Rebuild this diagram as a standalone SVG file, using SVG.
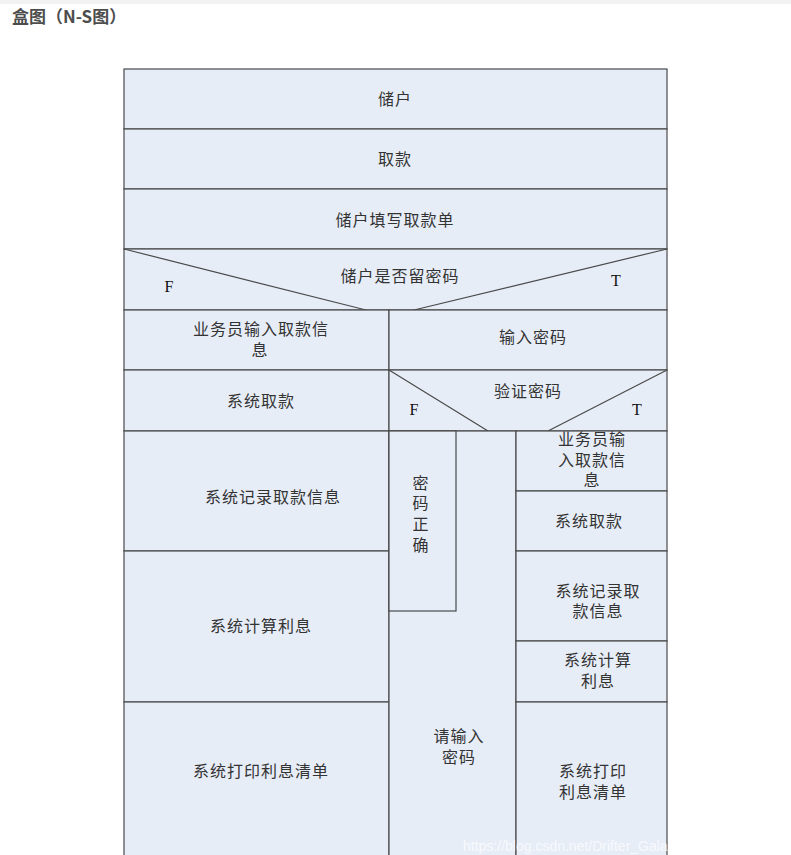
<svg xmlns="http://www.w3.org/2000/svg" width="791" height="855" viewBox="0 0 791 855">
<style>
.box{fill:#e7edf7;stroke:#4a4a4a;stroke-width:1.2}
.ln{stroke:#4a4a4a;stroke-width:1.2;fill:none}
.t{font-family:"Liberation Serif","Noto Sans CJK SC",serif;font-size:16px;fill:#333;text-anchor:middle;letter-spacing:1px}
.ft{font-family:"Liberation Serif",serif;font-size:16px;fill:#111;text-anchor:middle}
.h{font-family:"Noto Sans CJK SC","Liberation Sans",sans-serif;font-size:17px;font-weight:bold;fill:#4d4d4d}
.wm{font-family:"Liberation Sans",sans-serif;font-size:14px;fill:#ffffff;fill-opacity:0.7}
</style>
<rect x="0" y="0" width="791" height="855" fill="#ffffff"/>
<rect x="0" y="0" width="791" height="4" fill="#f2f2f2"/>
<text class="h" x="12" y="23">盒图（N-S图）</text>

<g id="n-chuhu"><rect class="box" x="124" y="69" width="543" height="60"/><text class="t" x="395" y="105">储户</text></g>
<g id="n-qukuan"><rect class="box" x="124" y="129" width="543" height="60"/><text class="t" x="395" y="165">取款</text></g>
<g id="n-tianxie"><rect class="box" x="124" y="189" width="543" height="60"/><text class="t" x="395" y="226">储户填写取款单</text></g>
<g id="n-decision1"><rect class="box" x="124" y="249" width="543" height="61"/>
<polyline class="ln" points="124,249 366,310"/><polyline class="ln" points="667,249 414,310"/>
<text class="t" x="400" y="282">储户是否留密码</text><text class="ft" x="169" y="292">F</text><text class="ft" x="616" y="286">T</text></g>

<g id="n-ywy1"><rect class="box" x="124" y="310" width="265" height="60"/><text class="t" x="261" y="335">业务员输入取款信</text><text class="t" x="260" y="356">息</text></g>
<g id="n-xtqk1"><rect class="box" x="124" y="370" width="265" height="61"/><text class="t" x="261" y="407">系统取款</text></g>
<g id="n-jilu1"><rect class="box" x="124" y="431" width="265" height="120"/><text class="t" x="273" y="503">系统记录取款信息</text></g>
<g id="n-jisuan1"><rect class="box" x="124" y="551" width="265" height="151"/><text class="t" x="261" y="632">系统计算利息</text></g>
<g id="n-dayin1"><rect class="box" x="124" y="702" width="265" height="160"/><text class="t" x="261" y="777">系统打印利息清单</text></g>

<g id="n-shurumima"><rect class="box" x="389" y="310" width="278" height="60"/><text class="t" x="533" y="343">输入密码</text></g>
<g id="n-decision2"><rect class="box" x="389" y="370" width="278" height="61"/>
<polyline class="ln" points="389,370 488,431"/><polyline class="ln" points="667,370 548,431"/>
<text class="t" x="528" y="397">验证密码</text><text class="ft" x="414" y="415">F</text><text class="ft" x="637" y="415">T</text></g>

<g id="n-loop"><rect class="box" x="389" y="431" width="127" height="431"/><text class="t" x="459" y="742">请输入</text><text class="t" x="459" y="763">密码</text></g>
<g id="n-mimazhengque"><rect class="box" x="389" y="431" width="67" height="180"/>
<text class="t" x="421" y="489">密</text><text class="t" x="421" y="509">码</text><text class="t" x="421" y="530">正</text><text class="t" x="421" y="551">确</text></g>

<g id="n-ywy2"><rect class="box" x="516" y="431" width="151" height="60"/><text class="t" x="592" y="445">业务员输</text><text class="t" x="592" y="466">入取款信</text><text class="t" x="592" y="486">息</text></g>
<g id="n-xtqk2"><rect class="box" x="516" y="491" width="151" height="60"/><text class="t" x="589" y="527">系统取款</text></g>
<g id="n-jilu2"><rect class="box" x="516" y="551" width="151" height="90"/><text class="t" x="598" y="597">系统记录取</text><text class="t" x="598" y="617">款信息</text></g>
<g id="n-jisuan2"><rect class="box" x="516" y="641" width="151" height="61"/><text class="t" x="598" y="666">系统计算</text><text class="t" x="598" y="687">利息</text></g>
<g id="n-dayin2"><rect class="box" x="516" y="702" width="151" height="160"/><text class="t" x="593" y="777">系统打印</text><text class="t" x="593" y="798">利息清单</text></g>

<g id="connectors"></g>
<text class="wm" x="463" y="851">https://blog.csdn.net/Drifter_Galaxy</text>
</svg>
